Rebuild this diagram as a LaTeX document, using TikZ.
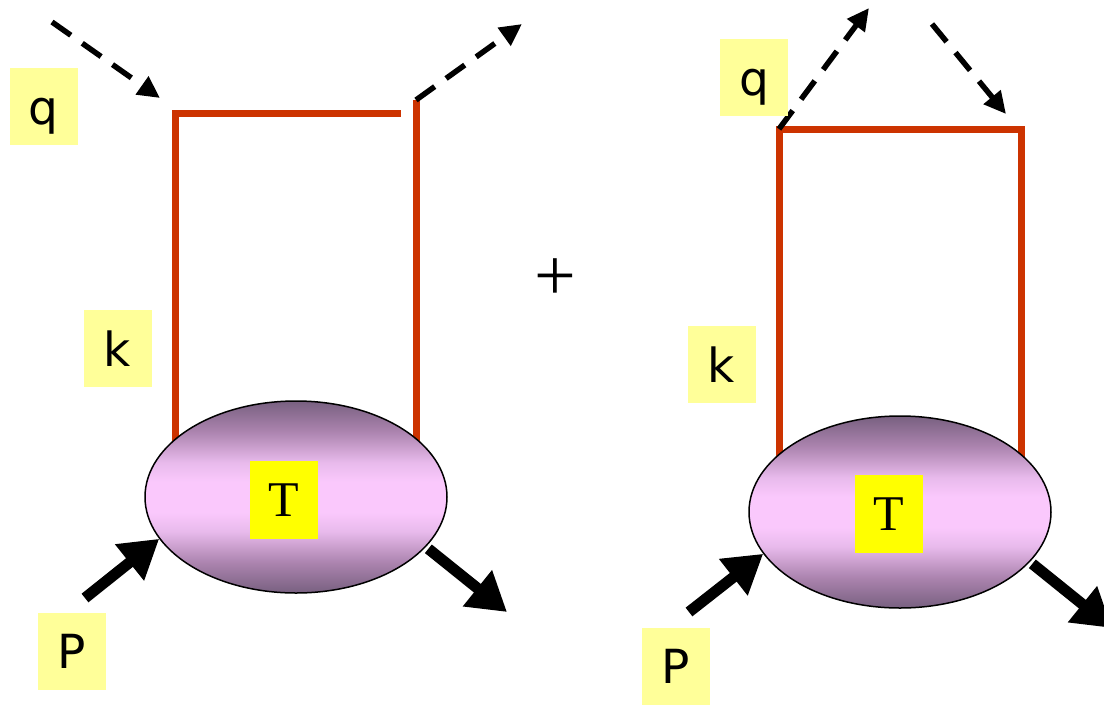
\documentclass[tikz,border=0pt]{standalone}
\usepackage{fontspec}
\setmainfont{Liberation Serif}
\newfontfamily\labelfont{DejaVu Sans}
\usetikzlibrary{arrows.meta,shapes.geometric,backgrounds}
\definecolor{wire}{HTML}{CC3300}
\definecolor{labelbg}{HTML}{FFFF99}
\definecolor{tbg}{HTML}{FFFF00}
\definecolor{blobdark}{RGB}{120,96,128}
\definecolor{blobmid}{RGB}{172,132,175}
\definecolor{blobsoft}{RGB}{232,186,236}
\definecolor{bloblight}{RGB}{250,200,252}
% vertical blend of the blob: dark rims, broad light band in the middle
\pgfdeclareverticalshading{blobshade}{100bp}{%
  color(0bp)=(blobdark); color(25bp)=(blobdark); color(33bp)=(blobmid);
  color(41bp)=(blobsoft); color(46bp)=(bloblight); color(54bp)=(bloblight);
  color(59bp)=(blobsoft); color(67bp)=(blobmid); color(75bp)=(blobdark);
  color(100bp)=(blobdark)}
\tikzset{
  momlabel/.style={fill=labelbg, inner sep=0pt, minimum width=68pt, minimum height=77pt,
    font=\labelfont\fontsize{47}{47}\selectfont},
  tlabel/.style={fill=tbg, inner sep=0pt, minimum width=68pt, minimum height=78pt,
    font=\fontsize{50}{50}\selectfont},
  blob/.style={ellipse, draw=black, line width=1.5pt, minimum width=302pt, minimum height=192pt,
    inner sep=0pt, shading=blobshade},
  wireline/.style={draw=wire, line width=7pt},
  photon/.style={draw=black, line width=5.5pt, dash pattern=on 23pt off 14pt,
    -{Triangle[length=22pt,width=21pt]}},
  hadron/.style={draw=black, line width=11pt, -{Triangle[length=38pt,width=44pt]}},
}
\begin{document}
\begin{tikzpicture}[x=1pt,y=-1pt]
  \useasboundingbox (0,0) rectangle (1104,705);
  \clip (0,0) rectangle (1104,705);

  % ---- first diagram ----
  \node[blob] (blobA) at (296,497) {};
  \coordinate (Atl) at (175,113);
  \coordinate (Atr) at (401,113);
  \coordinate (Arv) at (416,100);
  \begin{pgfonlayer}{background}
    \draw[wireline] (Atl |- blobA.center) -- (Atl) -- (Atr);
    \draw[wireline] (Arv) -- (Arv |- blobA.center);
  \end{pgfonlayer}
  \coordinate (Aqin) at (52,22);
  \coordinate (Aqtip) at (160,98);
  \coordinate (Aqout) at (522,24);
  \draw[photon] (Aqin) -- (Aqtip);
  \draw[photon] (Arv) -- (Aqout);
  \coordinate (APin) at (85,598);
  \coordinate (APout) at (507,612);
  \draw[hadron] (APin) -- (blobA.197);
  \draw[hadron, shorten <=3pt] (blobA.339) -- (APout);
  \node[momlabel, text depth=0pt] (Aq) at (43.5,106.5) {\raisebox{-9pt}{q}};
  \node[momlabel] (Ak) at (117.5,348.5) {k};
  \node[momlabel] (AP) at (72,651) {P};
  \node[tlabel] (AT) at (284,500) {T};

  % ---- plus sign ----
  \node[font=\fontsize{74}{74}\selectfont, inner sep=0pt] (plus) at (555,280) {+};

  % ---- second diagram ----
  \node[blob] (blobB) at (900,512) {};
  \coordinate (Btl) at (779,129);
  \coordinate (Btr) at (1021,129);
  \begin{pgfonlayer}{background}
    \draw[wireline] (Btl |- blobB.center) -- (Btl) -- (Btr) -- (Btr |- blobB.center);
  \end{pgfonlayer}
  \coordinate (Bqout) at (869,8);
  \coordinate (Bqin) at (932,24);
  \coordinate (Bqtip) at (1006,114);
  \draw[photon] (Btl) -- (Bqout);
  \draw[photon] (Bqin) -- (Bqtip);
  \coordinate (BPin) at (689,612);
  \coordinate (BPout) at (1112,628);
  \draw[hadron] (BPin) -- (blobB.197);
  \draw[hadron, shorten <=3pt] (blobB.339) -- (BPout);
  \node[momlabel, text depth=0pt] (Bq) at (754,77.5) {\raisebox{-9pt}{q}};
  \node[momlabel] (Bk) at (721.5,364.5) {k};
  \node[momlabel] (BP) at (676,666) {P};
  \node[tlabel] (BT) at (888.5,514) {T};
\end{tikzpicture}
\end{document}
